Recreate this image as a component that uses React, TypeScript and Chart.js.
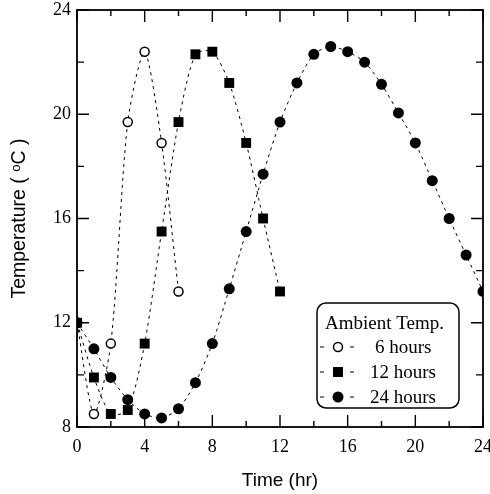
import { useEffect, useRef } from 'react';
import { Chart, registerables } from 'chart.js';

Chart.register(...registerables);

const hours6 = [0, 1, 2, 3, 4, 5, 6];
const temp6 = [12, 8.5, 11.2, 19.7, 22.4, 18.9, 13.2];

const hours12 = [0, 1, 2, 3, 4, 5, 6, 7, 8, 9, 10, 11, 12];
const temp12 = [12, 9.9, 8.5, 8.65, 11.2, 15.5, 19.7, 22.3, 22.4, 21.2, 18.9, 16.0, 13.2];

const hours24 = [0, 1, 2, 3, 4, 5, 6, 7, 8, 9, 10, 11, 12, 13, 14, 15, 16, 17, 18, 19, 20, 21, 22, 23, 24];
const temp24 = [12, 11.0, 9.9, 9.05, 8.5, 8.35, 8.7, 9.7, 11.2, 13.3, 15.5, 17.7, 19.7, 21.2, 22.3, 22.6, 22.4, 22.0, 21.15, 20.05, 18.9, 17.45, 16.0, 14.6, 13.2];

const xTicks = [0, 4, 8, 12, 16, 20, 24];
const yTicks = [8, 12, 16, 20, 24];

const seriesNames = ['6 hours', '12 hours', '24 hours'];
const legendTitle = 'Ambient Temp.';
const xTitle = 'Time (hr)';
const yTitle = 'Temperature ( \u1D52C )';

const SERIF = '"Liberation Serif", "Times New Roman", serif';
const SANS = '"Liberation Sans", Arial, sans-serif';

const pairs = (xs: number[], ys: number[]) => xs.map((x, i) => ({ x, y: ys[i] }));

const withMinors = (majors: number[]) => {
  const out: { v: number; major: boolean }[] = [];
  majors.forEach((v, i) => {
    out.push({ v, major: true });
    if (i < majors.length - 1) out.push({ v: (v + majors[i + 1]) / 2, major: false });
  });
  return out;
};

const framePlugin = {
  id: 'frameTicks',
  beforeDatasetsDraw(chart: any) {
    const { ctx, chartArea: a, scales } = chart;
    const x = scales.x;
    const y = scales.y;
    ctx.save();
    ctx.strokeStyle = '#000';
    ctx.lineWidth = 1.8;
    ctx.strokeRect(a.left, a.top, a.right - a.left, a.bottom - a.top);
    ctx.lineWidth = 1.4;
    ctx.beginPath();
    withMinors(xTicks).forEach(({ v, major }) => {
      const len = major ? 12 : 6;
      const px = x.getPixelForValue(v);
      ctx.moveTo(px, a.bottom);
      ctx.lineTo(px, a.bottom - len);
      ctx.moveTo(px, a.top);
      ctx.lineTo(px, a.top + len);
    });
    withMinors(yTicks).forEach(({ v, major }) => {
      const len = major ? 12 : 7;
      const py = y.getPixelForValue(v);
      ctx.moveTo(a.left, py);
      ctx.lineTo(a.left + len, py);
      ctx.moveTo(a.right, py);
      ctx.lineTo(a.right - len, py);
    });
    ctx.stroke();
    ctx.restore();
  },
};

const drawMarker = (ctx: CanvasRenderingContext2D, kind: number, cx: number, cy: number) => {
  ctx.beginPath();
  if (kind === 0) {
    ctx.arc(cx, cy, 4.5, 0, Math.PI * 2);
    ctx.fillStyle = '#fff';
    ctx.fill();
    ctx.lineWidth = 1.5;
    ctx.strokeStyle = '#000';
    ctx.stroke();
  } else if (kind === 1) {
    ctx.rect(cx - 5, cy - 5, 10, 10);
    ctx.fillStyle = '#000';
    ctx.fill();
  } else {
    ctx.arc(cx, cy, 5.5, 0, Math.PI * 2);
    ctx.fillStyle = '#000';
    ctx.fill();
  }
};

const legendPlugin = {
  id: 'insetLegend',
  afterDraw(chart: any) {
    const { ctx, chartArea: a } = chart;
    const w = 142;
    const h = 105;
    const left = a.right - 24 - w;
    const top = a.bottom - 19 - h;
    ctx.save();
    ctx.beginPath();
    ctx.roundRect(left, top, w, h, 9);
    ctx.fillStyle = '#fff';
    ctx.fill();
    ctx.lineWidth = 1.5;
    ctx.strokeStyle = '#000';
    ctx.stroke();
    ctx.fillStyle = '#000';
    ctx.font = `19px ${SERIF}`;
    ctx.textBaseline = 'alphabetic';
    ctx.textAlign = 'left';
    ctx.fillText(legendTitle, left + 8, top + 26);
    seriesNames.forEach((name, i) => {
      const cy = top + 44 + i * 25;
      const mx = left + 21;
      ctx.beginPath();
      ctx.lineWidth = 1.2;
      ctx.strokeStyle = '#000';
      ctx.moveTo(left + 3, cy);
      ctx.lineTo(left + 7, cy);
      ctx.moveTo(left + 33, cy);
      ctx.lineTo(left + 37, cy);
      ctx.stroke();
      drawMarker(ctx, i, mx, cy);
      ctx.fillStyle = '#000';
      ctx.font = `19px ${SERIF}`;
      ctx.fillText(name, left + (i === 0 ? 58 : 53), cy + 6);
    });
    ctx.restore();
  },
};

export default function App() {
  const canvasRef = useRef<HTMLCanvasElement | null>(null);

  useEffect(() => {
    document.body.style.margin = '0';
    const canvas = canvasRef.current;
    if (!canvas) return;
    const common = {
      showLine: true,
      borderColor: '#000',
      borderWidth: 1,
      borderDash: [3, 4],
      tension: 0.25,
      pointBorderColor: '#000',
    };
    const chart = new Chart(canvas, {
      type: 'scatter',
      data: {
        datasets: [
          {
            ...common,
            label: seriesNames[2],
            data: pairs(hours24, temp24),
            pointStyle: 'circle',
            pointRadius: 5.5,
            pointBackgroundColor: '#000',
            pointBorderWidth: 0,
          },
          {
            ...common,
            label: seriesNames[1],
            data: pairs(hours12, temp12),
            pointStyle: 'rect',
            pointRadius: 7,
            pointBackgroundColor: '#000',
            pointBorderWidth: 0,
          },
          {
            ...common,
            label: seriesNames[0],
            data: pairs(hours6, temp6),
            pointStyle: 'circle',
            pointRadius: 4.5,
            pointBackgroundColor: '#fff',
            pointBorderWidth: 1.5,
          },
        ],
      } as any,
      options: {
        responsive: false,
        animation: false,
        layout: { padding: { top: 10, right: 6, left: 0, bottom: 0 } },
        plugins: {
          legend: { display: false },
          tooltip: { enabled: false },
        },
        scales: {
          x: {
            type: 'linear',
            min: 0,
            max: 24,
            grid: { display: false, drawTicks: false },
            border: { display: false },
            ticks: {
              stepSize: 4,
              padding: 9,
              color: '#000',
              font: { family: SERIF, size: 18 },
              maxRotation: 0,
            },
            title: {
              display: true,
              text: xTitle,
              color: '#000',
              font: { family: SANS, size: 19 },
              padding: { top: 0, bottom: 2 },
            },
            afterFit(scale: any) {
              scale.height = 67;
              scale.paddingLeft = 0;
              scale.paddingRight = 0;
            },
          },
          y: {
            type: 'linear',
            min: 8,
            max: 24,
            grid: { display: false, drawTicks: false },
            border: { display: false },
            ticks: {
              stepSize: 4,
              padding: 6,
              color: '#000',
              font: { family: SERIF, size: 18 },
            },
            title: {
              display: true,
              text: yTitle,
              color: '#000',
              font: { family: SANS, size: 19.5 },
              padding: { top: 8, bottom: 0 },
            },
            afterFit(scale: any) {
              scale.width = 77;
              scale.paddingTop = 0;
              scale.paddingBottom = 0;
            },
          },
        },
      } as any,
      plugins: [framePlugin, legendPlugin],
    });
    return () => chart.destroy();
  }, []);

  return (
    <div style={{ width: 490, height: 494 }}>
      <canvas ref={canvasRef} width={490} height={494} style={{ display: 'block' }} />
    </div>
  );
}
